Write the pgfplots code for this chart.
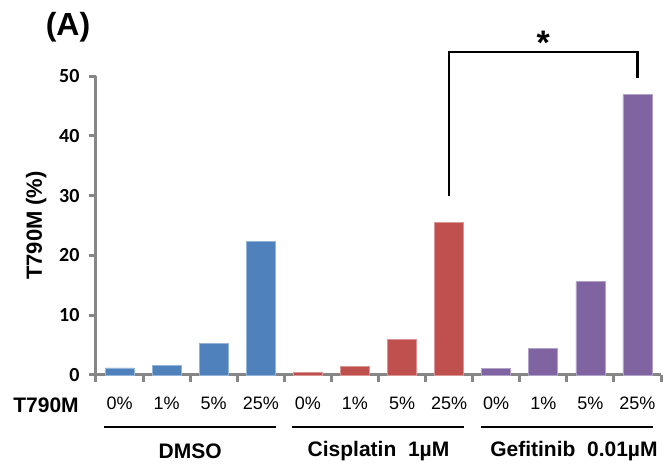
\documentclass[border=0pt]{standalone}
\usepackage{fontspec}
\setmainfont{Liberation Sans}
\newfontfamily\calibri{Carlito}
\usepackage{pgfplots}
\pgfplotsset{compat=1.18}
\definecolor{cblue}{HTML}{4F81BD}
\definecolor{cred}{HTML}{C0504D}
\definecolor{cpurple}{HTML}{8064A2}
\definecolor{axgray}{HTML}{868686}
\begin{document}
\begin{tikzpicture}[x=1pt,y=1pt]
\useasboundingbox (0,0) rectangle (665,466);
\begin{axis}[at={(96pt,91pt)}, anchor=south west, scale only axis,
  width=565pt, height=299pt,
  xmin=-0.5, xmax=11.5, ymin=0, ymax=50,
  clip=false,
  axis x line*=bottom, axis y line*=left,
  axis line style={axgray, line width=3pt, -},
  ytick={0,10,...,50},
  xtick={0,...,11},
  xticklabels={0\%,1\%,5\%,25\%,0\%,1\%,5\%,25\%,0\%,1\%,5\%,25\%},
  minor xtick={-0.5,0.5,...,11.5},
  tick align=outside,
  major x tick style={draw=none},
  minor tick length=7pt, major tick length=7pt,
  every tick/.style={axgray, line width=3pt},
  /pgf/number format/assume math mode=true,
  yticklabel style={font=\calibri\bfseries\fontsize{20}{20}\selectfont, xshift=-6pt},
  xticklabel style={font=\fontsize{18}{18}\selectfont, yshift=-11pt},
  ylabel={T790M (\%)},
  ylabel style={at={(axis description cs:-0.106,0.5)}, anchor=center, rotate=0, font=\bfseries\fontsize{22}{22}\selectfont},
]
\addplot[ybar, bar width=29pt, fill=cblue, draw=cblue!60!white, line width=0.6pt] coordinates {(0,1.2) (1,1.6) (2,5.3) (3,22.3)};
\addplot[ybar, bar width=29pt, fill=cred, draw=cred!60!white, line width=0.6pt] coordinates {(4,0.5) (5,1.5) (6,6.0) (7,25.5)};
\addplot[ybar, bar width=29pt, fill=cpurple, draw=cpurple!60!white, line width=0.6pt] coordinates {(8,1.1) (9,4.4) (10,15.6) (11,46.9)};
\draw[line width=2.5pt] (axis cs:7,29.9) -- (axis cs:7,54) -- (axis cs:11,54) -- (axis cs:11,49.7);
\node[font=\bfseries\fontsize{34}{34}\selectfont] at ([yshift=-6pt]axis cs:9,56.6) {*};
\draw[line width=2pt] ([yshift=-52pt]axis cs:-0.33,0) -- ([yshift=-52pt]axis cs:3.32,0);
\draw[line width=2pt] ([yshift=-52pt]axis cs:3.67,0) -- ([yshift=-52pt]axis cs:7.32,0);
\draw[line width=2pt] ([yshift=-52pt]axis cs:7.67,0) -- ([yshift=-52pt]axis cs:11.32,0);
\node[font=\bfseries\fontsize{21}{21}\selectfont] at ([yshift=-76pt]axis cs:1.5,0) {DMSO};
\node[font=\bfseries\fontsize{21}{21}\selectfont] at ([yshift=-76pt]axis cs:5.5,0) {Cisplatin\ \ 1µM};
\node[font=\bfseries\fontsize{21}{21}\selectfont] at ([yshift=-76pt]axis cs:9.65,0) {Gefitinib\ \ 0.01µM};
\end{axis}
\node[font=\bfseries\fontsize{21}{21}\selectfont] at (46,61) {T790M};
\node[font=\bfseries\fontsize{32}{32}\selectfont] at (68,439) {(A)};
\end{tikzpicture}
\end{document}
